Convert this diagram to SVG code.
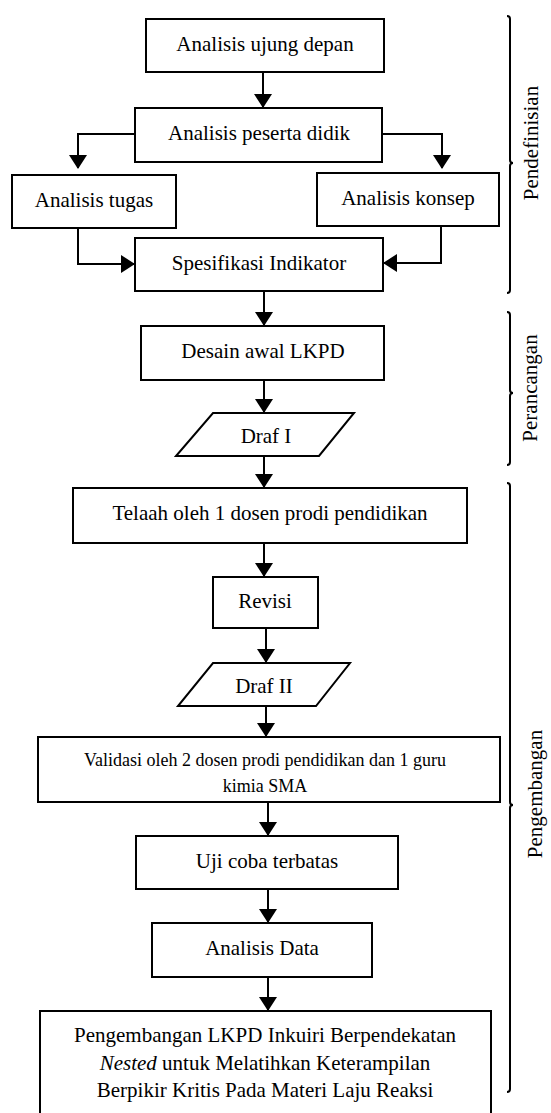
<svg xmlns="http://www.w3.org/2000/svg" width="551" height="1113" viewBox="0 0 551 1113">
<style>
.b{fill:#fff;stroke:#000;stroke-width:2}
.t{font-family:"Liberation Serif","Times New Roman",serif;font-size:21px;fill:#000;text-anchor:middle}
.s{font-size:18px}
.c{fill:none;stroke:#000;stroke-width:2}
.a{marker-end:url(#ah)}
.br{fill:none;stroke:#000;stroke-width:2}
</style>
<defs>
<marker id="ah" markerUnits="userSpaceOnUse" viewBox="0 0 14 18" markerWidth="14" markerHeight="18" refX="13" refY="9" orient="auto">
<path d="M0,0 L14,9 L0,18 z" fill="#000"/>
</marker>
</defs>
<rect width="551" height="1113" fill="#fff"/>
<g id="connectors">
<path class="c a" d="M263,72 V107"/>
<path class="c a" d="M135,134 H78 V168"/>
<path class="c a" d="M382,134 H442 V168"/>
<path class="c a" d="M78,228 V264 H134"/>
<path class="c a" d="M441,226 V263 H384"/>
<path class="c a" d="M264,291 V325"/>
<path class="c a" d="M264,380 V412"/>
<path class="c a" d="M264,456 V487"/>
<path class="c a" d="M264,543 V576"/>
<path class="c a" d="M266,628 V662"/>
<path class="c a" d="M266,706 V736"/>
<path class="c a" d="M268,802 V835"/>
<path class="c a" d="M268,889 V922"/>
<path class="c a" d="M268,977 V1010"/>
</g>
<g id="n1"><rect class="b" x="146" y="19" width="238" height="53"/><text class="t" x="265" y="51">Analisis ujung depan</text></g>
<g id="n2"><rect class="b" x="135" y="108" width="247" height="54"/><text class="t" x="259" y="140">Analisis peserta didik</text></g>
<g id="n3"><rect class="b" x="12" y="175" width="164" height="53"/><text class="t" x="94" y="207">Analisis tugas</text></g>
<g id="n4"><rect class="b" x="317" y="173" width="182" height="53"/><text class="t" x="408" y="205">Analisis konsep</text></g>
<g id="n5"><rect class="b" x="135" y="238" width="248" height="53"/><text class="t" x="259" y="270">Spesifikasi Indikator</text></g>
<g id="n6"><rect class="b" x="141" y="326" width="243" height="54"/><text class="t" x="263" y="358">Desain awal LKPD</text></g>
<g id="n7"><polygon class="b" points="213,413 354,413 319,456 176,456"/><text class="t" x="266" y="443">Draf I</text></g>
<g id="n8"><rect class="b" x="73" y="488" width="394" height="55"/><text class="t" x="270" y="520">Telaah oleh 1 dosen prodi pendidikan</text></g>
<g id="n9"><rect class="b" x="213" y="577" width="105" height="51"/><text class="t" x="265" y="608">Revisi</text></g>
<g id="n10"><polygon class="b" points="213,663 350,663 316,706 178,706"/><text class="t" x="264" y="693">Draf II</text></g>
<g id="n11"><rect class="b" x="38" y="737" width="462" height="65"/><text class="t s" x="265" y="766">Validasi oleh 2 dosen prodi pendidikan dan 1 guru</text><text class="t s" x="265" y="792">kimia SMA</text></g>
<g id="n12"><rect class="b" x="136" y="836" width="262" height="53"/><text class="t" x="267" y="868">Uji coba terbatas</text></g>
<g id="n13"><rect class="b" x="152" y="923" width="220" height="54"/><text class="t" x="262" y="955">Analisis Data</text></g>
<g id="n14"><rect class="b" x="40" y="1011" width="451" height="120"/>
<text class="t" x="265" y="1042">Pengembangan LKPD Inkuiri Berpendekatan</text>
<text class="t" x="265" y="1069.5"><tspan font-style="italic">Nested</tspan> untuk Melatihkan Keterampilan</text>
<text class="t" x="265" y="1097">Berpikir Kritis Pada Materi Laju Reaksi</text></g>
<g id="phase1"><path class="br" d="M507,16 Q510,16 510,19 V160 Q510,163 513,163 Q510,163 510,166 V290 Q510,293 507,293"/><text class="t" transform="translate(538,143) rotate(-90)" x="0" y="0" font-size="21.5">Pendefinisian</text></g>
<g id="phase2"><path class="br" d="M507,312 Q510,312 510,315 V390 Q510,393 513,393 Q510,393 510,396 V462 Q510,465 507,465"/><text class="t" transform="translate(537,388) rotate(-90)" x="0" y="0" font-size="21.5">Perancangan</text></g>
<g id="phase3"><path class="br" d="M507,483 Q510,483 510,486 V802 Q510,805 513,805 Q510,805 510,808 V1089 Q510,1092 507,1092"/><text class="t" transform="translate(542,794) rotate(-90)" x="0" y="0">Pengembangan</text></g>
</svg>
